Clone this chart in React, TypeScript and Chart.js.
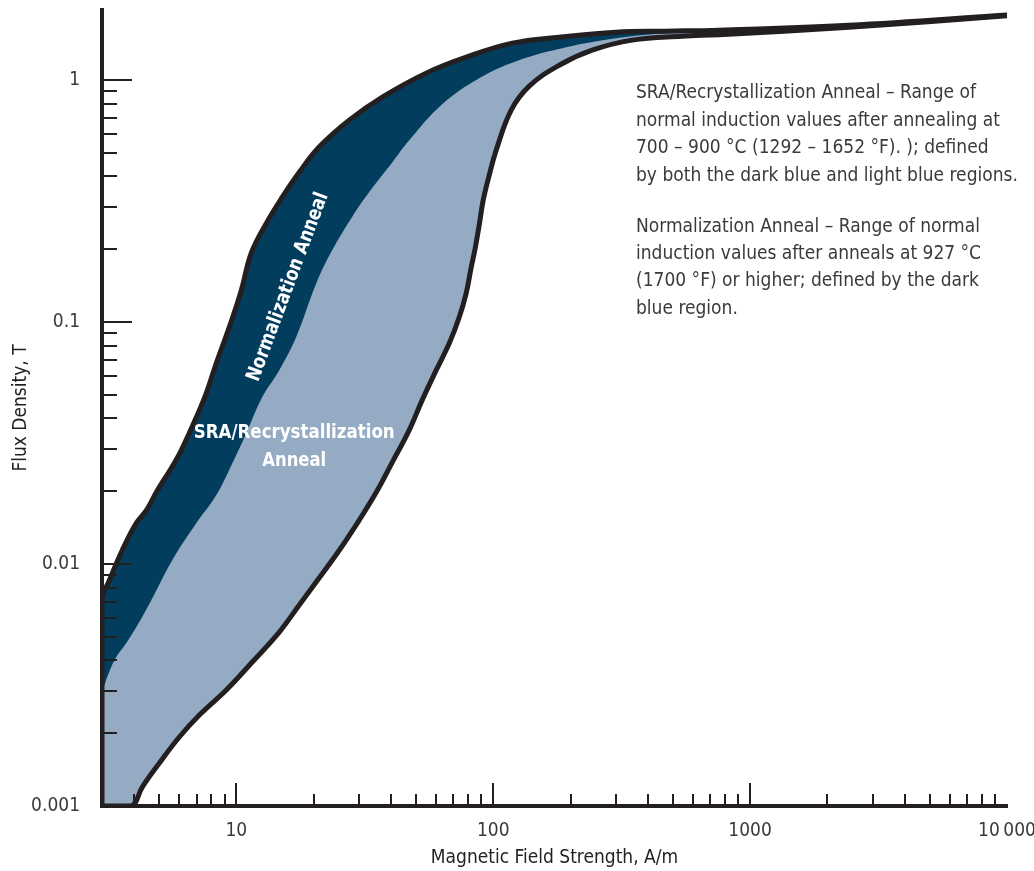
import React, { useEffect, useRef } from 'react';
import { Chart, registerables } from 'chart.js';

Chart.register(...registerables);

// ---- data ----
const UPPER_X = [3, 3, 3.21, 3.6, 4.08, 4.47, 4.93, 5.58, 6.11, 6.99, 7.64, 8.36, 9.39, 10.46, 11.43, 13.09, 15.1, 17.6, 21.0, 27.5, 37.0, 54.8, 78.5, 118.6, 180.7, 301, 471, 757, 2427, 10000];
const UPPER_Y = [0.001, 0.0071, 0.0086, 0.01143, 0.01477, 0.0167, 0.0202, 0.0249, 0.0296, 0.0405, 0.0509, 0.0677, 0.0954, 0.1356, 0.1928, 0.2565, 0.3285, 0.417, 0.529, 0.683, 0.851, 1.069, 1.245, 1.422, 1.506, 1.579, 1.594, 1.61, 1.687, 1.86];

const MID_X = [3, 3.2, 3.41, 3.73, 4.19, 4.67, 5.64, 6.99, 8.36, 9.65, 10.94, 12.62, 14.7, 17.1, 20.5, 23.6, 28.2, 33.8, 40.5, 47.1, 63.3, 88.2, 122.9, 192.3, 301, 471, 738, 2427, 10000];
const MID_Y = [0.00296, 0.00358, 0.00413, 0.00472, 0.00576, 0.0071, 0.0104, 0.01477, 0.0193, 0.0261, 0.0348, 0.049, 0.0633, 0.0867, 0.145, 0.198, 0.2716, 0.358, 0.4584, 0.565, 0.796, 1.019, 1.198, 1.368, 1.491, 1.564, 1.594, 1.687, 1.86];

const LOWER_X = [3, 3.9, 4.31, 5.02, 6.0, 7.18, 9.14, 11.54, 14.7, 17.58, 21.0, 25.2, 30.1, 35.1, 40.5, 47.1, 52.9, 60.0, 67.5, 73.8, 78.5, 82.0, 85.1, 88.2, 91.4, 96.5, 102.7, 117.5, 138.1, 180.7, 242.7, 347.5, 543, 757, 2427, 10000];
const LOWER_Y = [0.001, 0.001, 0.0012, 0.001506, 0.001928, 0.002377, 0.003015, 0.003936, 0.005236, 0.00677, 0.00875, 0.01143, 0.0152, 0.01984, 0.02639, 0.0358, 0.0476, 0.0633, 0.0819, 0.105, 0.1318, 0.1672, 0.2022, 0.2517, 0.319, 0.405, 0.5137, 0.752, 0.9445, 1.153, 1.33, 1.464, 1.52, 1.542, 1.656, 1.845];

const X_MAJOR = [10, 100, 1000, 10000];
const X_MINOR = [4, 5, 6, 7, 8, 9, 20, 30, 40, 50, 60, 70, 80, 90, 200, 300, 400, 500, 600, 700, 800, 900, 2000, 3000, 4000, 5000, 6000, 7000, 8000, 9000];
const X_LABELS = ['10', '100', '1000', '10\u202f000'];

const Y_MAJOR = [0.001, 0.01, 0.1, 1];
const Y_MINOR = [0.002, 0.003, 0.004, 0.005, 0.006, 0.007, 0.008, 0.009, 0.02, 0.03, 0.04, 0.05, 0.06, 0.07, 0.08, 0.09, 0.2, 0.3, 0.4, 0.5, 0.6, 0.7, 0.8, 0.9];
const Y_LABELS = ['0.001', '0.01', '0.1', '1'];

const NOTE_SRA = [
  'SRA/Recrystallization Anneal \u2013 Range of',
  'normal induction values after annealing at',
  '700 \u2013 900 \u00b0C (1292 \u2013 1652 \u00b0F). ); defined',
  'by both the dark blue and light blue regions.',
];
const NOTE_NORM = [
  'Normalization Anneal \u2013 Range of normal',
  'induction values after anneals at 927 \u00b0C',
  '(1700 \u00b0F) or higher; defined by the dark',
  'blue region.',
];

// ---- styles ----
const INK = '#231f20';
const DARK = '#023d5e';
const LIGHT = '#94abc3';
const TEXT = '#3a3a3a';
const FONT = "'DejaVu Sans Condensed', 'Liberation Sans Narrow', Roboto, sans-serif";

const pts = (xs: number[], ys: number[]) => xs.map((x, i) => ({ x, y: ys[i] }));

const labelFor = (v: number, vals: number[], labels: string[]) => {
  const i = vals.findIndex((m) => Math.abs(m - v) / m < 1e-6);
  return i >= 0 ? labels[i] : '';
};

const innerTicks = {
  id: 'innerTicks',
  afterDatasetsDraw(chart: any) {
    const { ctx, chartArea, scales } = chart;
    const xs = scales.x;
    const ys = scales.y;
    ctx.save();
    ctx.strokeStyle = INK;
    ctx.lineWidth = 2;
    const line = (x1: number, y1: number, x2: number, y2: number) => {
      ctx.beginPath();
      ctx.moveTo(x1, y1);
      ctx.lineTo(x2, y2);
      ctx.stroke();
    };
    const b = chartArea.bottom;
    const l = chartArea.left;
    X_MINOR.forEach((v) => { const p = Math.round(xs.getPixelForValue(v)); line(p, b, p, b - 12); });
    X_MAJOR.forEach((v) => { const p = Math.round(xs.getPixelForValue(v)); if (p < chartArea.right - 4) line(p, b, p, b - 23); });
    Y_MINOR.forEach((v) => { const p = Math.round(ys.getPixelForValue(v)); line(l, p, l + 15, p); });
    Y_MAJOR.forEach((v) => { const p = Math.round(ys.getPixelForValue(v)); if (p < b - 4) line(l, p, l + 30, p); });
    ctx.restore();
  },
};

const notes = {
  id: 'notes',
  afterDraw(chart: any) {
    const { ctx, scales } = chart;
    const xs = scales.x;
    const ys = scales.y;
    ctx.save();
    ctx.fillStyle = TEXT;
    ctx.font = `19px ${FONT}`;
    ctx.textAlign = 'left';
    ctx.textBaseline = 'middle';
    NOTE_SRA.forEach((t, i) => ctx.fillText(t, 636, 93 + i * 27.7));
    NOTE_NORM.forEach((t, i) => ctx.fillText(t, 636, 227 + i * 27.2));
    ctx.fillStyle = '#ffffff';
    ctx.font = `bold 20px ${FONT}`;
    ctx.textAlign = 'center';
    const cx = xs.getPixelForValue(15.9);
    const cy = ys.getPixelForValue(0.1396);
    ctx.save();
    ctx.translate(cx, cy);
    ctx.rotate((-69.5 * Math.PI) / 180);
    ctx.fillText('Normalization Anneal', 0, 0, 200);
    ctx.restore();
    const sx = xs.getPixelForValue(16.8);
    ctx.fillText('SRA/Recrystallization', sx, ys.getPixelForValue(0.0348), 201);
    ctx.fillText('Anneal', sx, ys.getPixelForValue(0.0266), 64);
    ctx.restore();
  },
};

export default function App() {
  const ref = useRef<HTMLCanvasElement>(null);
  useEffect(() => {
    if (!ref.current) return;
    const common = { pointRadius: 0, tension: 0.4 };
    const chart = new Chart(ref.current, {
      type: 'line',
      data: {
        datasets: [
          {
            ...common,
            label: 'Normalization upper',
            data: pts(UPPER_X, UPPER_Y),
            borderColor: INK,
            borderWidth: 5,
            backgroundColor: DARK,
            fill: 2,
            order: 3,
          },
          {
            ...common,
            label: 'SRA upper',
            data: pts(MID_X, MID_Y),
            borderWidth: 0,
            borderColor: 'rgba(0,0,0,0)',
            backgroundColor: LIGHT,
            fill: 2,
            order: 2,
          },
          {
            ...common,
            label: 'Lower',
            data: pts(LOWER_X, LOWER_Y),
            borderColor: INK,
            borderWidth: 5,
            backgroundColor: 'rgba(0,0,0,0)',
            fill: false,
            order: 1,
          },
        ] as any,
      },
      options: {
        responsive: false,
        animation: false,
        events: [],
        layout: { padding: { top: 10, right: 27, left: 0, bottom: 0 } },
        plugins: {
          legend: { display: false },
          tooltip: { enabled: false },
          filler: { drawTime: 'beforeDatasetsDraw' },
        },
        scales: {
          x: {
            type: 'logarithmic',
            min: 3,
            max: 10000,
            afterFit: (s: any) => { s.height = 65; s.paddingLeft = 0; s.paddingRight = 0; },
            afterBuildTicks: (s: any) => { s.ticks = X_MAJOR.map((v) => ({ value: v })); },
            grid: { display: false, drawTicks: false },
            border: { display: true, color: INK, width: 4 },
            ticks: {
              autoSkip: false,
              maxRotation: 0,
              padding: 14,
              color: TEXT,
              font: { family: FONT, size: 19 },
              callback: (v: any) => labelFor(Number(v), X_MAJOR, X_LABELS),
            },
            title: {
              display: true,
              text: 'Magnetic Field Strength, A/m',
              color: INK,
              font: { family: FONT, size: 19 },
              padding: { top: 0, bottom: 2 },
            },
          },
          y: {
            type: 'logarithmic',
            min: 0.001,
            max: 1.95,
            afterFit: (s: any) => { s.width = 102; s.paddingTop = 0; s.paddingBottom = 0; },
            afterBuildTicks: (s: any) => { s.ticks = Y_MAJOR.map((v) => ({ value: v })); },
            grid: { display: false, drawTicks: false },
            border: { display: true, color: INK, width: 4 },
            ticks: {
              autoSkip: false,
              padding: 22,
              color: TEXT,
              font: { family: FONT, size: 19 },
              callback: (v: any) => labelFor(Number(v), Y_MAJOR, Y_LABELS),
            },
            title: {
              display: true,
              text: 'Flux Density, T',
              color: INK,
              font: { family: FONT, size: 19 },
              padding: { top: 10, bottom: 0 },
            },
          },
        },
      } as any,
      plugins: [innerTicks, notes],
    });
    return () => chart.destroy();
  }, []);
  return (
    <div style={{ position: 'absolute', left: 0, top: 0, width: 1034, height: 871, background: '#fff' }}>
      <canvas ref={ref} width={1034} height={871} style={{ display: 'block' }} />
    </div>
  );
}
